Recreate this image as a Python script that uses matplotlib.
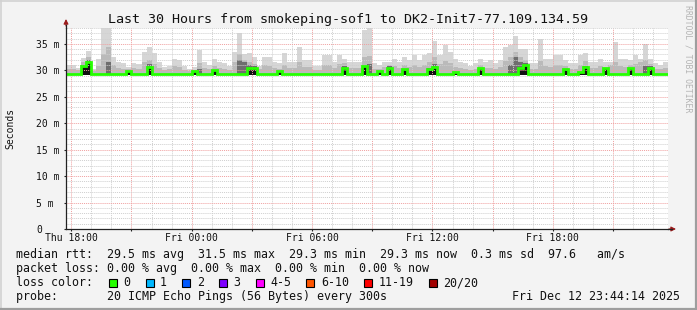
import numpy as np
import pandas as pd
import matplotlib
matplotlib.use("Agg")
import matplotlib.pyplot as plt
import matplotlib.dates as mdates
from matplotlib.lines import Line2D
from matplotlib.patches import Rectangle
from matplotlib.ticker import MultipleLocator, FuncFormatter

# ---------------- data ----------------
title = "Last 30 Hours from smokeping-sof1 to DK2-Init7-77.109.134.59"
window_start = "2025-12-11 17:44:14"
window_end = "2025-12-12 23:44:14"
series_start = "2025-12-11 17:45"
series_step = "15min"
smoke_floor_ms = 29.2   # lowest ping of each step

median_ms = [
    29.3, 29.3, 29.3, 30.8, 31.5, 29.3, 29.3, 29.3, 29.3, 29.3,
    29.3, 29.3, 29.9, 29.3, 29.3, 29.3, 30.6, 29.3, 29.3, 29.3,
    29.3, 29.3, 29.3, 29.3, 29.3, 29.8, 29.3, 29.3, 29.3, 30.1,
    29.3, 29.3, 29.3, 29.3, 29.3, 29.3, 30.5, 30.4, 29.3, 29.3,
    29.3, 29.3, 29.8, 29.3, 29.3, 29.3, 29.3, 29.3, 29.3, 29.3,
    29.3, 29.3, 29.3, 29.3, 29.3, 30.4, 29.3, 29.3, 29.3, 30.9,
    29.3, 29.3, 29.8, 29.3, 30.5, 29.3, 29.3, 30.2, 29.3, 29.3,
    29.3, 29.3, 30.2, 30.6, 29.3, 29.3, 29.3, 29.6, 29.3, 29.3,
    29.3, 29.3, 30.4, 29.3, 29.3, 29.3, 29.3, 29.3, 29.3, 29.3,
    30.4, 31.0, 29.3, 29.3, 29.3, 29.3, 29.3, 29.3, 29.3, 30.3,
    29.3, 29.3, 29.6, 30.6, 29.3, 29.3, 29.3, 30.4, 29.3, 29.3,
    29.3, 29.3, 30.5, 29.3, 29.3, 29.3, 30.5, 29.3, 29.3, 29.3,
]

smoke_max_ms = [
    31.0, 31.0, 30.4, 32.3, 33.7, 30.3, 32.2, 38.5, 38.5, 32.5,
    31.6, 31.3, 30.6, 31.3, 31.1, 33.5, 34.5, 33.2, 31.6, 30.6,
    30.9, 32.2, 31.9, 30.9, 30.3, 30.6, 33.8, 31.6, 31.0, 32.2,
    31.6, 31.3, 30.9, 33.5, 37.0, 33.0, 33.2, 32.5, 30.9, 32.5,
    32.5, 31.6, 31.4, 33.2, 31.6, 31.6, 34.5, 31.9, 31.9, 30.9,
    30.9, 32.9, 32.9, 31.6, 32.9, 32.2, 31.6, 31.6, 31.6, 37.6,
    38.2, 31.3, 31.0, 31.6, 31.6, 32.2, 31.6, 32.5, 31.9, 32.9,
    31.9, 32.9, 33.2, 35.6, 32.9, 34.8, 33.5, 32.2, 31.6, 31.3,
    30.9, 31.3, 32.2, 31.6, 31.9, 31.3, 32.0, 34.5, 34.8, 36.5,
    34.1, 34.0, 31.3, 31.3, 36.0, 32.2, 32.2, 32.9, 32.9, 31.9,
    31.3, 31.3, 32.9, 33.2, 31.6, 31.6, 32.2, 31.6, 31.6, 35.3,
    32.2, 32.2, 31.9, 32.9, 32.2, 35.0, 32.2, 31.3, 31.0, 31.6,
]

smoke_mid_ms = [
    30.3, 30.2, 30.0, 31.5, 32.5, 29.9, 30.8, 33.0, 34.5, 31.0,
    30.5, 30.3, 30.3, 30.4, 30.2, 31.5, 32.0, 31.2, 30.5, 30.0,
    30.2, 30.8, 30.6, 30.1, 29.9, 30.1, 31.3, 30.5, 30.2, 30.8,
    30.5, 30.3, 30.1, 31.5, 33.0, 32.0, 31.6, 31.2, 30.2, 31.0,
    30.8, 30.4, 30.3, 31.0, 30.4, 30.5, 31.5, 30.7, 30.6, 30.1,
    30.1, 31.0, 31.0, 30.5, 31.2, 31.3, 30.5, 30.4, 30.5, 32.5,
    32.8, 30.3, 30.2, 30.6, 31.0, 30.8, 30.5, 31.0, 30.6, 31.0,
    30.6, 31.0, 31.5, 32.5, 31.2, 31.8, 31.3, 30.7, 30.4, 30.3,
    30.1, 30.2, 31.0, 30.4, 30.5, 30.3, 30.6, 31.8, 32.5, 33.5,
    32.5, 32.0, 30.3, 30.2, 31.8, 30.8, 30.7, 31.0, 31.0, 30.8,
    30.3, 30.3, 31.0, 31.8, 30.5, 30.4, 30.8, 30.5, 31.0, 31.5,
    30.8, 30.7, 31.0, 31.2, 31.5, 32.0, 31.2, 30.3, 30.2, 30.5,
]

smoke_dark_ms = [
    29.3, 29.3, 29.3, 31.0, 32.0, 29.3, 29.3, 29.3, 31.5, 29.3,
    29.3, 29.3, 29.9, 29.3, 29.3, 29.3, 31.2, 29.3, 29.3, 29.3,
    29.3, 29.3, 29.3, 29.3, 29.3, 29.3, 30.3, 29.3, 29.3, 29.3,
    29.3, 29.3, 29.3, 29.3, 32.0, 31.5, 31.0, 30.8, 29.3, 29.3,
    29.3, 29.3, 29.3, 29.3, 29.3, 29.3, 29.3, 29.3, 29.3, 29.3,
    29.3, 29.3, 29.3, 29.3, 29.3, 30.8, 29.3, 29.3, 29.3, 30.8,
    31.2, 29.3, 29.3, 29.3, 30.8, 29.3, 29.3, 29.3, 29.3, 29.3,
    29.3, 29.3, 30.5, 31.2, 29.3, 29.3, 29.3, 29.3, 29.3, 29.3,
    29.3, 29.3, 29.3, 29.3, 29.3, 29.3, 29.3, 29.3, 31.0, 32.5,
    31.5, 31.3, 29.3, 29.3, 29.3, 29.3, 29.3, 29.3, 29.3, 29.3,
    29.3, 29.3, 29.3, 30.9, 29.3, 29.3, 29.3, 29.3, 29.3, 29.3,
    29.3, 29.3, 29.3, 29.3, 29.3, 30.8, 30.9, 29.3, 29.3, 29.3,
]

y_label = "Seconds"
y_ticks_ms = [0, 5, 10, 15, 20, 25, 30, 35]
stats_line = "median rtt:  29.5 ms avg  31.5 ms max  29.3 ms min  29.3 ms now  0.3 ms sd  97.6   am/s"
loss_line = "packet loss: 0.00 % avg  0.00 % max  0.00 % min  0.00 % now"
loss_label = "loss color:"
loss_names = ["0", "1", "2", "3", "4-5", "6-10", "11-19", "20/20"]
loss_colors = ["#26ff00", "#00b8ff", "#0059ff", "#7e00ff", "#ff00ff", "#ff5500", "#ff0000", "#a10000"]
probe_line = "probe:       20 ICMP Echo Pings (56 Bytes) every 300s"
stamp = "Fri Dec 12 23:44:14 2025"
watermark = "RRDTOOL / TOBI OETIKER"

# ---------------- figure ----------------
W, H = 697, 310
fig = plt.figure(figsize=(W / 100, H / 100), dpi=100)
fig.patch.set_facecolor("#f3f3f3")
mono = "DejaVu Sans Mono"

def fx(px):
    return px / W

def fy(py):
    return 1 - py / H

ax = fig.add_axes([fx(66), fy(229), fx(668) - fx(66), fy(28) - fy(229)])
ax.set_facecolor("white")

edges = mdates.date2num(pd.date_range(series_start, periods=len(median_ms) + 1, freq=series_step))

ax.stairs(smoke_max_ms, edges, baseline=smoke_floor_ms, fill=True, color="#d6d6d6", zorder=1)
ax.stairs(smoke_mid_ms, edges, baseline=smoke_floor_ms, fill=True, color="#bababa", zorder=1.1)
ax.stairs(smoke_dark_ms, edges, baseline=smoke_floor_ms, fill=True, color="#6e6e6e", zorder=1.2)
ax.stairs(median_ms, edges, baseline=smoke_floor_ms, fill=True, color="#111111", zorder=1.3)
ax.stairs(median_ms, edges, baseline=None, color="#26ff00", linewidth=2.0, zorder=3)

ax.set_xlim(mdates.date2num(pd.Timestamp(window_start)), mdates.date2num(pd.Timestamp(window_end)))
ax.set_ylim(0, 38)

# grid
ax.set_axisbelow(False)
ax.xaxis.set_major_locator(mdates.HourLocator(byhour=range(0, 24, 3)))
ax.xaxis.set_minor_locator(mdates.HourLocator())

def xfmt(v, pos):
    d = mdates.num2date(v)
    return d.strftime("%a %H:%M") if d.hour % 6 == 0 else ""

ax.xaxis.set_major_formatter(FuncFormatter(xfmt))
ax.set_yticks(y_ticks_ms)
ax.set_yticklabels(["0" if v == 0 else f"{v} m" for v in y_ticks_ms])
ax.yaxis.set_minor_locator(MultipleLocator(1))

ax.grid(which="minor", color="#cfcfcf", linestyle=(0, (1, 1)), linewidth=0.7)
ax.grid(which="major", color="#f0a0a0", linestyle=(0, (1, 1)), linewidth=0.7)

for s in ["top", "right"]:
    ax.spines[s].set_visible(False)
for s in ["left", "bottom"]:
    ax.spines[s].set_color("#222222")
    ax.spines[s].set_linewidth(0.9)
    ax.spines[s].set_zorder(4)

ax.tick_params(axis="both", which="minor", length=0)
ax.tick_params(axis="x", which="major", length=1.5, width=0.8, color="#222222", pad=1.5,
               labelsize=7, labelcolor="#111111")
ax.tick_params(axis="y", which="major", length=1.5, width=0.8, color="#222222", pad=20.0,
               labelsize=7, labelcolor="#111111")
for lab in ax.get_yticklabels():
    lab.set_horizontalalignment("left")
    lab.set_fontfamily(mono)
for lab in ax.get_xticklabels():
    lab.set_fontfamily(mono)

# axis arrows
ax.plot([0, 0], [1, 1 + 3 / 201], transform=ax.transAxes, color="#222222", lw=0.9, clip_on=False, zorder=4)
ax.plot([1, 1 + 4 / 602], [0, 0], transform=ax.transAxes, color="#222222", lw=0.9, clip_on=False, zorder=4)
ax.annotate("", xy=(0, 1 + 9 / 201), xytext=(0, 1 + 2 / 201), xycoords="axes fraction",
            arrowprops=dict(arrowstyle="-|>", color="#9b1c1c", lw=0.8, mutation_scale=7,
                            shrinkA=0, shrinkB=0))
ax.annotate("", xy=(1 + 8 / 602, 0), xytext=(1 + 1 / 602, 0), xycoords="axes fraction",
            arrowprops=dict(arrowstyle="-|>", color="#9b1c1c", lw=0.8, mutation_scale=7,
                            shrinkA=0, shrinkB=0))

# title / labels
fig.text(0.5, fy(19), title, ha="center", va="center", fontsize=9.6, family=mono, color="#111111")
fig.text(fx(10), fy(128.5), y_label, rotation=90, ha="center", va="center", fontsize=7,
         family=mono, color="#111111")
fig.text(fx(688), fy(5), watermark, rotation=270, ha="center", va="top", fontsize=5.9,
         family=mono, color="#b4b4b4")

# legend
lf = 8.4
base_off = 4.0
fig.text(fx(16), fy(254 + base_off), stats_line, ha="left", va="baseline", fontsize=lf, family=mono, color="#111111")
fig.text(fx(16), fy(268.3 + base_off), loss_line, ha="left", va="baseline", fontsize=lf, family=mono, color="#111111")
fig.text(fx(16), fy(282 + base_off), loss_label, ha="left", va="baseline", fontsize=lf, family=mono, color="#111111")
x_text = 123.3
for name, col in zip(loss_names, loss_colors):
    fig.add_artist(Rectangle((fx(x_text - 14.5), fy(286.5)), fx(8), 8 / H, transform=fig.transFigure,
                             facecolor=col, edgecolor="#000000", linewidth=0.8))
    fig.text(fx(x_text), fy(282 + base_off), name, ha="left", va="baseline", fontsize=lf, family=mono, color="#111111")
    x_text += (len(name) + 2) * 7 + 15.7
fig.text(fx(16), fy(296 + base_off), probe_line, ha="left", va="baseline", fontsize=lf, family=mono, color="#111111")
fig.text(fx(680), fy(296 + base_off), stamp, ha="right", va="baseline", fontsize=lf, family=mono, color="#111111")

# frame
fig.add_artist(Line2D([0, 1], [fy(0.7), fy(0.7)], transform=fig.transFigure, color="#d2d2d2", lw=1.2))
fig.add_artist(Line2D([fx(0.7), fx(0.7)], [0, 1], transform=fig.transFigure, color="#d2d2d2", lw=1.2))
fig.add_artist(Line2D([0, 1], [fy(309), fy(309)], transform=fig.transFigure, color="#9e9e9e", lw=1.6))
fig.add_artist(Line2D([fx(696), fx(696)], [0, 1], transform=fig.transFigure, color="#9e9e9e", lw=1.6))

fig.savefig("out.png", dpi=100, facecolor=fig.get_facecolor())
